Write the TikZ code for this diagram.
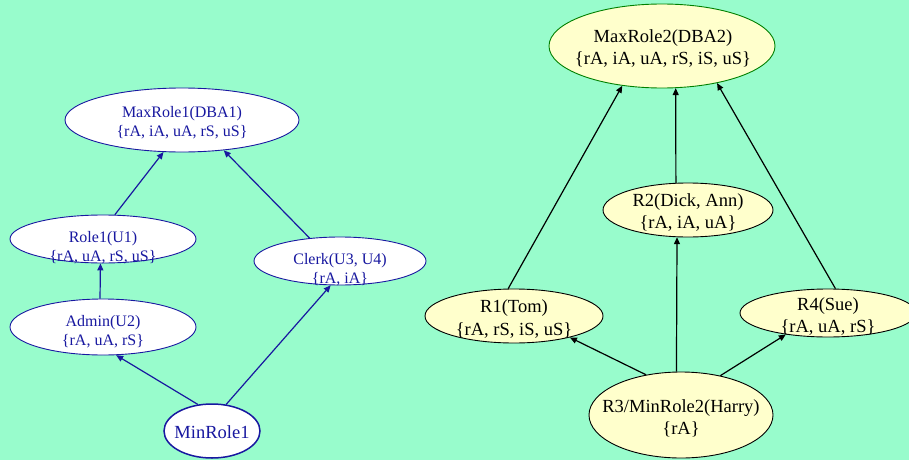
\documentclass[tikz,border=0pt]{standalone}
\usepackage{fontspec}
\setmainfont{Liberation Serif}
\usetikzlibrary{shapes.geometric,arrows.meta}

\definecolor{bgmint}{RGB}{152,252,204}
\definecolor{roleblue}{RGB}{24,24,160}
\definecolor{paleyellow}{RGB}{255,255,204}
\definecolor{maxgreen}{RGB}{0,128,0}

\tikzset{
  blueellipse/.style={ellipse, draw=roleblue, fill=white, line width=0.9pt, inner sep=0pt},
  yellowellipse/.style={ellipse, draw=black, fill=paleyellow, line width=0.9pt, inner sep=0pt},
  bluetext/.style={align=center, text=roleblue, inner sep=0pt, font=\fontsize{16}{19}\selectfont},
  blacktext/.style={align=center, text=black, inner sep=0pt, font=\fontsize{18.5}{22}\selectfont},
  bluearrow/.style={draw=roleblue, line width=1.2pt, -{Triangle[length=7pt,width=6pt]}},
  blackarrow/.style={draw=black, line width=1.2pt, -{Triangle[length=7pt,width=6pt]}},
}

\begin{document}
\begin{tikzpicture}[x=1pt,y=-1pt]
  \fill[bgmint] (0,0) rectangle (909,460);
  \useasboundingbox (0,0) rectangle (909,460);

  % first hierarchy (blue)
  \node[blueellipse, minimum width=234pt, minimum height=64pt] (max1) at (182,120) {};
  \node[blueellipse, minimum width=186pt, minimum height=48pt] (role1) at (103,239) {};
  \node[blueellipse, minimum width=186pt, minimum height=56pt] (admin) at (103,327) {};
  \node[blueellipse, minimum width=172pt, minimum height=48pt] (clerk) at (340,261) {};
  \node[blueellipse, minimum width=96pt, minimum height=54pt, line width=1.5pt] (min1) at (212,431) {};

  \node[bluetext] (max1t) at (182,123) {MaxRole1(DBA1)\\\{rA, iA, uA, rS, uS\}};
  \node[bluetext] (role1t) at (103,247.5) {Role1(U1)\\\{rA, uA, rS, uS\}};
  \node[bluetext] (admint) at (103,332) {Admin(U2)\\\{rA, uA, rS\}};
  \node[bluetext] (clerkt) at (340,270) {Clerk(U3, U4)\\\{rA, iA\}};
  \node[bluetext, font=\fontsize{18.5}{22}\selectfont] (min1t) at (212,432) {MinRole1};

  \draw[bluearrow] (role1.64) -- (max1.240);
  \draw[bluearrow] (clerk.143) -- (max1.-36.5);
  \draw[bluearrow] (admin.96) -- (role1.264);
  \draw[bluearrow] (min1.118) -- (admin.-65);
  \draw[bluearrow] (min1.62) -- (clerk.-111);

  % second hierarchy (yellow)
  \node[yellowellipse, draw=maxgreen, minimum width=226pt, minimum height=84pt] (max2) at (662,46) {};
  \node[yellowellipse, minimum width=170pt, minimum height=54pt] (r2) at (688,210) {};
  \node[yellowellipse, minimum width=178pt, minimum height=54pt] (r1) at (514,316) {};
  \node[yellowellipse, minimum width=176pt, minimum height=48pt] (r4) at (828,313) {};
  \node[yellowellipse, minimum width=184pt, minimum height=86pt] (r3) at (681,415) {};

  \node[blacktext] (max2t) at (663,48.5) {MaxRole2(DBA2)\\\{rA, iA, uA, rS, iS, uS\}};
  \node[blacktext] (r2t) at (688,213) {R2(Dick, Ann)\\\{rA, iA, uA\}};
  \node[blacktext] (r1t) at (514,319) {R1(Tom)\\\{rA, rS, iS, uS\}};
  \node[blacktext] (r4t) at (828,316.5) {R4(Sue)\\\{rA, uA, rS\}};
  \node[blacktext] (r3t) at (681,418) {R3/MinRole2(Harry)\\\{rA\}};

  \draw[blackarrow] (r1.102.5) -- (max2.-135);
  \draw[blackarrow] (r2.114) -- (max2.-72);
  \draw[blackarrow] (r4.73.7) -- (max2.-34.7);
  \draw[blackarrow] (r3.131.5) -- (r1.-21.3);
  \draw[blackarrow] (r3.96.6) -- (r2.-112.5);
  \draw[blackarrow] (r3.45) -- (r4.-153.4);
\end{tikzpicture}
\end{document}
